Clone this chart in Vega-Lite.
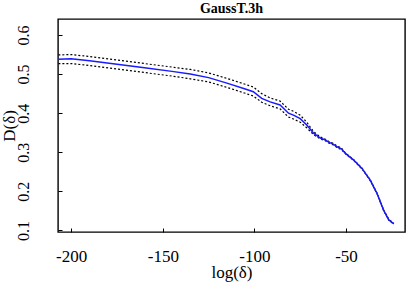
{
  "$schema": "https://vega.github.io/schema/vega-lite/v6.json",
  "autosize": {"type": "none"},
  "padding": {"left": 58, "top": 19, "right": 2, "bottom": 52},
  "width": 347,
  "height": 213,
  "title": {"text": "GaussT.3h", "font": "Liberation Serif", "fontSize": 14, "fontWeight": "bold", "color": "#000", "anchor": "middle", "offset": 3},
  "config": {
    "view": {"stroke": "#000", "strokeWidth": 1.4},
    "axis": {"grid": false, "domain": false, "tickColor": "#000", "tickSize": -4, "labelFont": "Liberation Serif", "labelColor": "#000", "titleFont": "Liberation Serif", "titleFontSize": 17, "titleFontWeight": "normal", "titleColor": "#000"}
  },
  "data": {"values": [
    {"x": -207, "m": 0.538, "lo": 0.527, "hi": 0.549},
    {"x": -200, "m": 0.539, "lo": 0.527, "hi": 0.550},
    {"x": -190, "m": 0.534, "lo": 0.522, "hi": 0.545},
    {"x": -175, "m": 0.525, "lo": 0.513, "hi": 0.536},
    {"x": -160, "m": 0.516, "lo": 0.504, "hi": 0.527},
    {"x": -145, "m": 0.507, "lo": 0.495, "hi": 0.518},
    {"x": -135, "m": 0.500, "lo": 0.488, "hi": 0.512},
    {"x": -125, "m": 0.491, "lo": 0.480, "hi": 0.503},
    {"x": -115, "m": 0.477, "lo": 0.466, "hi": 0.489},
    {"x": -105, "m": 0.462, "lo": 0.451, "hi": 0.474},
    {"x": -100.6, "m": 0.455, "lo": 0.444, "hi": 0.467},
    {"x": -96, "m": 0.438, "lo": 0.428, "hi": 0.450},
    {"x": -91.4, "m": 0.429, "lo": 0.419, "hi": 0.439},
    {"x": -86, "m": 0.421, "lo": 0.411, "hi": 0.431},
    {"x": -81.4, "m": 0.400, "lo": 0.390, "hi": 0.410},
    {"x": -78.7, "m": 0.395, "lo": 0.385, "hi": 0.405},
    {"x": -75, "m": 0.386, "lo": 0.377, "hi": 0.395},
    {"x": -71.3, "m": 0.369, "lo": 0.362, "hi": 0.376},
    {"x": -67.7, "m": 0.349, "lo": 0.345, "hi": 0.353},
    {"x": -64, "m": 0.336, "lo": 0.334, "hi": 0.339},
    {"x": -61.5, "m": 0.332, "lo": 0.330, "hi": 0.334},
    {"x": -59.5, "m": 0.326, "lo": 0.324, "hi": 0.328},
    {"x": -57, "m": 0.321, "lo": 0.319, "hi": 0.323},
    {"x": -54.9, "m": 0.314, "lo": 0.312, "hi": 0.316},
    {"x": -52.5, "m": 0.309, "lo": 0.307, "hi": 0.311},
    {"x": -50.3, "m": 0.297, "lo": 0.296, "hi": 0.298},
    {"x": -45.8, "m": 0.280, "lo": 0.279, "hi": 0.281},
    {"x": -41.2, "m": 0.258, "lo": 0.257, "hi": 0.259},
    {"x": -36.7, "m": 0.228, "lo": 0.227, "hi": 0.229},
    {"x": -33, "m": 0.194, "lo": 0.193, "hi": 0.195},
    {"x": -29.4, "m": 0.151, "lo": 0.150, "hi": 0.152},
    {"x": -26.6, "m": 0.127, "lo": 0.126, "hi": 0.128},
    {"x": -23.9, "m": 0.117, "lo": 0.116, "hi": 0.118}
  ]},
  "encoding": {
    "x": {"field": "x", "type": "quantitative", "scale": {"domain": [-207.2, -17.8], "nice": false, "zero": false},
      "axis": {"title": "log(δ)", "values": [-200, -150, -100, -50], "labelExpr": "toString(datum.value)", "labelFontSize": 17, "labelPadding": 20, "titlePadding": 0}}
  },
  "layer": [
    {"mark": {"type": "line", "color": "#000", "strokeWidth": 1.2, "strokeDash": [2, 2]},
     "encoding": {"y": {"field": "hi", "type": "quantitative", "scale": {"domain": [0.096, 0.641], "nice": false, "zero": false},
       "axis": {"title": "D(δ)", "values": [0.1, 0.2, 0.3, 0.4, 0.5, 0.6], "labelFontSize": 16, "labelAngle": -90, "labelAlign": "center", "labelBaseline": "bottom", "labelPadding": 31, "titlePadding": -3}}}},
    {"mark": {"type": "line", "color": "#000", "strokeWidth": 1.2, "strokeDash": [2, 2]},
     "encoding": {"y": {"field": "lo", "type": "quantitative"}}},
    {"mark": {"type": "line", "color": "#1a1aff", "strokeWidth": 1.5},
     "encoding": {"y": {"field": "m", "type": "quantitative"}}}
  ]
}
